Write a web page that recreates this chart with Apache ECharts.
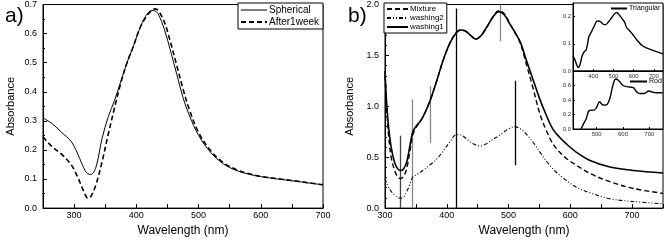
<!DOCTYPE html>
<html>
<head>
<meta charset="utf-8">
<script src="https://cdn.jsdelivr.net/npm/echarts@6/dist/echarts.min.js"></script>
<style>
  html, body { margin: 0; padding: 0; background: #fff; }
  #chart-container { width: 664px; height: 242px; }
</style>
</head>
<body>
<div id="chart-container"></div>
<script>
// panel a) spherical particles
const waveA = [250,265,280,295,305,313,318,322,327,335,345,355,365,375,385,395,405,415,425,430,435,445,455,465,475,485,500,520,540,560,580,600,650,700];
const spherical = [0.31,0.29,0.26,0.23,0.19,0.15,0.128,0.118,0.116,0.14,0.24,0.315,0.37,0.435,0.5,0.555,0.615,0.66,0.68,0.678,0.668,0.615,0.54,0.46,0.38,0.32,0.25,0.19,0.152,0.13,0.117,0.108,0.094,0.08];
const after1week = [0.245,0.21,0.185,0.15,0.11,0.07,0.045,0.034,0.04,0.08,0.16,0.255,0.345,0.43,0.5,0.555,0.615,0.655,0.68,0.685,0.68,0.64,0.57,0.49,0.41,0.34,0.26,0.196,0.156,0.133,0.119,0.109,0.095,0.08];

// panel b) mixture / washings
const waveB = [300,303,306,310,315,320,325,330,335,340,345,350,360,372,384,394,405,415,422,430,438,447,455,465,475,484,493,502,510,519,529,540,551,562,572,583,594,610,632,664,702,750];
const washing1 = [1.35,1.0,0.78,0.6,0.46,0.39,0.37,0.385,0.45,0.6,0.75,0.8,0.88,1.04,1.256,1.45,1.62,1.72,1.75,1.74,1.7,1.66,1.69,1.78,1.88,1.93,1.9,1.81,1.73,1.63,1.45,1.256,1.063,0.9,0.773,0.693,0.628,0.548,0.467,0.403,0.37,0.345];
const mixture = [1.3,0.95,0.7,0.5,0.38,0.31,0.29,0.31,0.386,0.55,0.72,0.79,0.88,1.04,1.256,1.45,1.62,1.72,1.75,1.74,1.7,1.66,1.69,1.78,1.88,1.94,1.91,1.81,1.73,1.62,1.41,1.17,0.92,0.75,0.63,0.548,0.485,0.42,0.34,0.26,0.193,0.145];
const washing2 = [0.29,0.24,0.2,0.165,0.13,0.105,0.097,0.11,0.16,0.23,0.305,0.325,0.365,0.42,0.483,0.56,0.65,0.72,0.72,0.69,0.65,0.62,0.61,0.635,0.676,0.71,0.75,0.785,0.8,0.78,0.725,0.644,0.548,0.455,0.385,0.322,0.27,0.205,0.15,0.092,0.065,0.042];

// peak markers in panel b
const markX = [324,344,373,415,486,511];
const markFrom = [0,0,0.64,0,1.64,0.42];
const markTo = [0.71,1.07,1.2,1.96,2.0,1.25];
const markColor = ['#444','#888','#888','#000','#888','#000'];

// insets
const triWave = [300,310,320,326,335,345,355,365,372,378,385,395,405,420,435,450,460,475,490,505,515,530,545,555,565,580,595,615,645,695,745];
const triAbs = [0.055,0.04,0.02,0.013,0.025,0.055,0.07,0.078,0.1,0.125,0.135,0.15,0.165,0.184,0.182,0.172,0.17,0.18,0.195,0.21,0.215,0.205,0.19,0.18,0.16,0.148,0.135,0.115,0.092,0.076,0.063];
const rodWave = [440,450,460,470,480,490,500,511,520,530,540,550,558,566,572,580,590,600,615,630,640,648,656,665,680,698,710,725,750];
const rodAbs = [0.0,0.07,0.14,0.25,0.26,0.26,0.3,0.375,0.34,0.33,0.34,0.42,0.55,0.66,0.69,0.68,0.64,0.6,0.585,0.575,0.57,0.53,0.5,0.49,0.49,0.525,0.51,0.5,0.5];

const font = 'Liberation Sans, Arial, sans-serif';
const pairs = (xs, ys) => xs.map((x, i) => [x, ys[i]]);

const mainAxisX = (idx, extra) => Object.assign({
  type: 'value', gridIndex: idx,
  name: 'Wavelength (nm)', nameLocation: 'middle', nameGap: 10,
  nameTextStyle: { fontFamily: font, fontSize: 12, color: '#000' },
  axisLine: { lineStyle: { color: '#000' } },
  axisTick: { inside: true, length: 4, lineStyle: { color: '#000' } },
  splitLine: { show: false },
  axisLabel: { fontFamily: font, fontSize: 9, color: '#000', margin: 3 }
}, extra);

const mainAxisY = (idx, extra) => Object.assign({
  type: 'value', gridIndex: idx,
  name: 'Absorbance', nameLocation: 'middle', nameRotate: 90,
  nameTextStyle: { fontFamily: font, fontSize: 11, color: '#000' },
  axisLine: { lineStyle: { color: '#000' } },
  axisTick: { inside: true, length: 4, lineStyle: { color: '#000' } },
  minorTick: { show: true, splitNumber: 2, length: 2, lineStyle: { color: '#000' } },
  splitLine: { show: false },
  axisLabel: { fontFamily: font, fontSize: 9, color: '#000', margin: 6, formatter: v => v.toFixed(1) }
}, extra);

const insetAxis = (idx, extra) => Object.assign({
  type: 'value', gridIndex: idx,
  axisLine: { lineStyle: { color: '#000' } },
  axisTick: { inside: true, length: 2, lineStyle: { color: '#000' } },
  splitLine: { show: false },
  axisLabel: { fontFamily: font, fontSize: 6, color: '#333', margin: 2 }
}, extra);

const lineSeries = (name, data, xi, width, type) => ({
  name: name, type: 'line', xAxisIndex: xi, yAxisIndex: xi,
  data: data, symbol: 'none', smooth: 0.35,
  lineStyle: { color: '#000', width: width, type: type },
  itemStyle: { color: '#000' }
});

// legend boxes draw only the line, no marker
const legendBase = {
  orient: 'vertical',
  itemStyle: { opacity: 0 },
  textStyle: { fontFamily: font, color: '#000', padding: [0, 0, 0, -3] }
};

const myChart = echarts.init(document.getElementById('chart-container'));
const option = {
  animation: false,
  backgroundColor: '#fff',
  title: [
    { text: 'a)', left: 0, top: 1, textStyle: { fontFamily: font, fontSize: 21, fontWeight: 'normal', color: '#000' } },
    { text: 'b)', left: 343, top: 1, textStyle: { fontFamily: font, fontSize: 21, fontWeight: 'normal', color: '#000' } }
  ],
  grid: [
    { left: 43, top: 3, width: 280, height: 207, show: true, borderColor: '#000', borderWidth: 1 },
    { left: 385, top: 3, width: 278, height: 207, show: true, borderColor: '#000', borderWidth: 1 },
    { left: 573, top: 3, width: 90, height: 68, show: true, borderColor: '#000', borderWidth: 1, backgroundColor: '#fff' },
    { left: 573, top: 71, width: 90, height: 58, show: true, borderColor: '#000', borderWidth: 1, backgroundColor: '#fff' }
  ],
  legend: [
    Object.assign({}, legendBase, {
      data: [{ name: 'Spherical', lineStyle: { width: 1 } }, 'After1week'], left: 238, top: 3,
      itemWidth: 26, itemHeight: 10, itemGap: 2, padding: [2, 4, 2, 2],
      borderColor: '#000', borderWidth: 1, backgroundColor: '#fff',
      textStyle: Object.assign({}, legendBase.textStyle, { fontSize: 10 })
    }),
    Object.assign({}, legendBase, {
      data: ['Mixture', 'washing2', 'washing1'], left: 384, top: 3,
      itemWidth: 21, itemHeight: 9, itemGap: 1, padding: [2, 3, 2, 2],
      borderColor: '#000', borderWidth: 1, backgroundColor: '#fff',
      textStyle: Object.assign({}, legendBase.textStyle, { fontSize: 8 })
    }),
    Object.assign({}, legendBase, {
      data: ['Triangular'], left: 610, top: 5, itemWidth: 16, itemHeight: 6, padding: 0,
      textStyle: Object.assign({}, legendBase.textStyle, { fontSize: 7 })
    }),
    Object.assign({}, legendBase, {
      data: ['Rod'], left: 629, top: 78, itemWidth: 17, itemHeight: 6, padding: 0,
      textStyle: Object.assign({}, legendBase.textStyle, { fontSize: 7 })
    })
  ],
  xAxis: [
    mainAxisX(0, { min: 250, max: 700, interval: 50,
      axisLabel: { fontFamily: font, fontSize: 9, color: '#000', margin: 3, formatter: v => (v % 100 === 0 ? String(v) : '') } }),
    mainAxisX(1, { min: 300, max: 750, interval: 100,
      minorTick: { show: true, splitNumber: 2, length: 4, lineStyle: { color: '#000' } },
      axisLabel: { fontFamily: font, fontSize: 9, color: '#000', margin: 3, showMaxLabel: false } }),
    insetAxis(2, { min: 300, max: 745, interval: 100,
      axisLabel: { fontFamily: font, fontSize: 6, color: '#333', margin: 2, showMinLabel: false, showMaxLabel: false } }),
    insetAxis(3, { min: 410, max: 752,
      axisTick: { inside: true, length: 2, customValues: [500, 600, 700], lineStyle: { color: '#000' } },
      axisLabel: { fontFamily: font, fontSize: 6, color: '#333', margin: 2, customValues: [500, 600, 700] } })
  ],
  yAxis: [
    mainAxisY(0, { min: 0, max: 0.7, interval: 0.1, nameGap: 27 }),
    mainAxisY(1, { min: 0, max: 2.0, interval: 0.5, nameGap: 30,
      minorTick: { show: true, splitNumber: 5, length: 2, lineStyle: { color: '#000' } } }),
    insetAxis(2, { min: 0, max: 0.25, interval: 0.1,
      axisLabel: { fontFamily: font, fontSize: 6, color: '#333', margin: 2, showMaxLabel: false, formatter: v => v.toFixed(1) } }),
    insetAxis(3, { min: 0, max: 0.8, interval: 0.2,
      axisLabel: { fontFamily: font, fontSize: 6, color: '#333', margin: 2, showMaxLabel: false, formatter: v => v.toFixed(1) } })
  ],
  series: [
    lineSeries('Spherical', pairs(waveA, spherical), 0, 1, 'solid'),
    lineSeries('After1week', pairs(waveA, after1week), 0, 1.6, [5, 3]),
    lineSeries('Mixture', pairs(waveB, mixture), 1, 1.4, [5, 3]),
    lineSeries('washing2', pairs(waveB, washing2), 1, 1.1, [4, 2, 1, 2, 1, 2]),
    lineSeries('washing1', pairs(waveB, washing1), 1, 1.6, 'solid'),
    {
      name: 'peaks', type: 'lines', coordinateSystem: 'cartesian2d', xAxisIndex: 1, yAxisIndex: 1,
      data: markX.map((x, i) => ({
        coords: [[x, markFrom[i]], [x, markTo[i]]],
        lineStyle: { color: markColor[i], width: 1.3, opacity: 1 }
      }))
    },
    lineSeries('Triangular', pairs(triWave, triAbs), 2, 1.4, 'solid'),
    lineSeries('Rod', pairs(rodWave, rodAbs), 3, 1.4, 'solid')
  ]
};
myChart.setOption(option);
</script>
</body>
</html>
